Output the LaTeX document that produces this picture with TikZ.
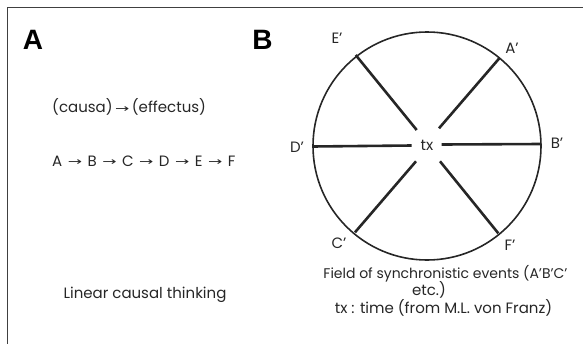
\documentclass[tikz,border=0pt]{standalone}
\usepackage{fontspec}
\usepackage{graphicx}
\setmainfont{Poppins}
\newfontfamily\arrowfont{DejaVu Sans}
\newfontfamily\panelfont{Liberation Sans}
\newcommand{\ra}{{\arrowfont\fontsize{11}{12}\selectfont\raisebox{0.5pt}{\scalebox{1.55}[1]{→}}}}
\newcommand{\cra}{\hspace{5.5pt}\ra\hspace{5.5pt}}
\newcommand{\pr}{\symbol{39}}
\begin{document}
\begin{tikzpicture}[x=1pt,y=-1pt,
  lbl/.style={inner sep=0pt,font=\fontsize{15}{17}\selectfont,text=black!85},
  panel/.style={inner sep=0pt,font=\panelfont\fontsize{28}{30}\selectfont\bfseries},
  spoke/.style={line width=2.6pt,draw=black!85},
  rim/.style={line width=1.6pt,draw=black!85}]
\useasboundingbox (0,0) rectangle (583,343);
\clip (0,0) rectangle (583,343);
\draw[line width=1pt,draw=black!75] (7,7) rectangle (600,360);
\node[panel] (pA) at (33,40) {A};
\node[panel] (pB) at (262.5,40) {B};
\node[lbl,anchor=west] (cause) at (52,107) {(causa)\,\ra\,(effectus)};
\node[lbl,anchor=west] (chain) at (52,161) {A\cra B\cra C\cra D\cra E\cra F};
\node[lbl] (lin) at (145,295) {Linear causal thinking};
% circle
\node[draw,rim,circle,minimum size=228pt,inner sep=0pt] (circ) at (427,146) {};
\node[lbl] (tx) at (427,145) {tx};
\coordinate (e1) at (355.7,55);   \coordinate (e2) at (416.7,130);
\coordinate (a1) at (499.3,58.3); \coordinate (a2) at (439,128.3);
\coordinate (d1) at (312.7,146.5);\coordinate (d2) at (411.7,145.5);
\coordinate (b1) at (541,144);    \coordinate (b2) at (441.7,144.5);
\coordinate (c1) at (355,232.3);  \coordinate (c2) at (416,161.3);
\coordinate (f1) at (498.3,233.3);\coordinate (f2) at (440,161.3);
\draw[spoke] (e1) -- (e2);
\draw[spoke] (a1) -- (a2);
\draw[spoke] (d1) -- (d2);
\draw[spoke] (b1) -- (b2);
\draw[spoke] (c1) -- (c2);
\draw[spoke] (f1) -- (f2);
\node[lbl] (lE) at (337,38) {E\pr};
\node[lbl] (lA) at (512,48) {A\pr};
\node[lbl] (lD) at (297,147) {D\pr};
\node[lbl] (lB) at (557,143.5) {B\pr};
\node[lbl] (lC) at (339,243) {C\pr};
\node[lbl] (lF) at (510,245) {F\pr};
\node[lbl,font=\fontsize{14}{16}\selectfont] (cap1) at (445.5,274) {Field of synchronistic events (A\pr B\pr C\pr};
\node[lbl] (cap2) at (429,290) {etc.)};
\node[lbl] (cap3) at (443.5,308) {tx : time (from M.L. von Franz)};
\end{tikzpicture}
\end{document}
